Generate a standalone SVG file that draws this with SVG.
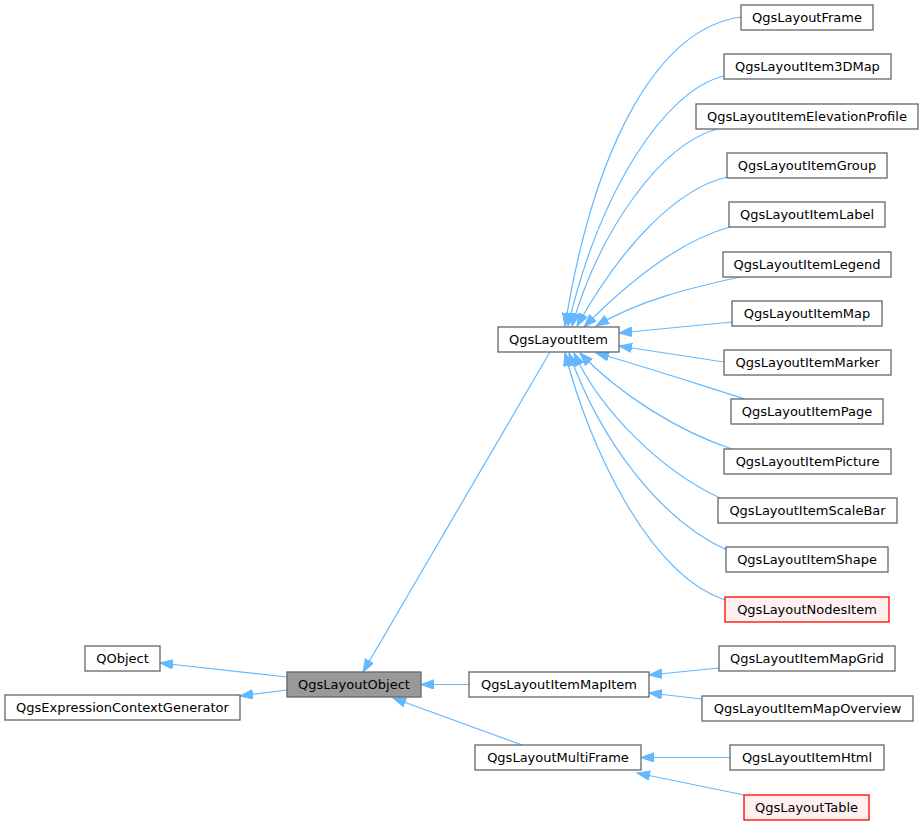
<svg xmlns="http://www.w3.org/2000/svg" width="924" height="825" viewBox="0 0 924 825">
<defs>
<marker id="arr" markerUnits="userSpaceOnUse" markerWidth="15" markerHeight="11" refX="13" refY="4.75" orient="auto">
<path d="M0,0 L13,4.75 L0,9.5 z" fill="#63b8ff" stroke="#63b8ff" stroke-width="1"/>
</marker>
</defs>
<style>
.n rect{fill:#ffffff;stroke:#666666;stroke-width:1.3}
.cur rect{fill:#999999;stroke:#666666;stroke-width:1.3}
.red rect{fill:#fff0f0;stroke:#ff0000;stroke-width:1.3}
text{font-family:"DejaVu Sans",sans-serif;font-size:13px;fill:#000000;text-anchor:middle}
.e path{fill:none;stroke:#63b8ff;stroke-width:1.2;marker-end:url(#arr)}
</style>
<rect width="924" height="825" fill="#ffffff"/>
<g class="e" id="edges">
<path d="M741,17 C660,28 595,140 565,326"/>
<path d="M724,76 C665,90 600,190 568,326"/>
<path d="M717,129 C660,145 600,230 572,326"/>
<path d="M727,177 C680,188 625,240 577,326"/>
<path d="M730,227 C690,238 640,270 584,327"/>
<path d="M740,277 C690,288 640,300 596,326"/>
<path d="M732,322 L619,333"/>
<path d="M724,362 L619,346"/>
<path d="M745,399 C700,385 640,365 596,353"/>
<path d="M732,449 C680,432 620,395 580,353"/>
<path d="M720,498 C660,470 600,410 574,353"/>
<path d="M727,550 C660,520 600,440 569,353"/>
<path d="M725,600 C650,575 590,450 565,353"/>
<path d="M550,352 L363,672"/>
<path d="M287,677 L160,663"/>
<path d="M287,690 L240,696"/>
<path d="M469,684.5 L421,684.5"/>
<path d="M522,745 L393,698"/>
<path d="M719,668 L649,675"/>
<path d="M702,699 L649,693"/>
<path d="M730,757.5 L641,757.5"/>
<path d="M744,795 L637,773"/>
</g>
<g class="n" id="QgsLayoutFrame"><rect x="741" y="5" width="132" height="25"/><text x="807" y="22">QgsLayoutFrame</text></g>
<g class="n" id="QgsLayoutItem3DMap"><rect x="724" y="54" width="167" height="25"/><text x="807.5" y="71">QgsLayoutItem3DMap</text></g>
<g class="n" id="QgsLayoutItemElevationProfile"><rect x="696" y="104" width="222" height="25"/><text x="807" y="121">QgsLayoutItemElevationProfile</text></g>
<g class="n" id="QgsLayoutItemGroup"><rect x="727" y="153" width="160" height="25"/><text x="807" y="170">QgsLayoutItemGroup</text></g>
<g class="n" id="QgsLayoutItemLabel"><rect x="729" y="202" width="156" height="25"/><text x="807" y="219">QgsLayoutItemLabel</text></g>
<g class="n" id="QgsLayoutItemLegend"><rect x="723" y="252" width="168" height="25"/><text x="807" y="269">QgsLayoutItemLegend</text></g>
<g class="n" id="QgsLayoutItemMap"><rect x="732" y="301" width="150" height="25"/><text x="807" y="318">QgsLayoutItemMap</text></g>
<g class="n" id="QgsLayoutItemMarker"><rect x="724" y="350" width="167" height="25"/><text x="807.5" y="367">QgsLayoutItemMarker</text></g>
<g class="n" id="QgsLayoutItemPage"><rect x="731" y="399" width="152" height="25"/><text x="807" y="416">QgsLayoutItemPage</text></g>
<g class="n" id="QgsLayoutItemPicture"><rect x="724" y="449" width="167" height="25"/><text x="807.5" y="466">QgsLayoutItemPicture</text></g>
<g class="n" id="QgsLayoutItemScaleBar"><rect x="718" y="498" width="179" height="25"/><text x="807.5" y="515">QgsLayoutItemScaleBar</text></g>
<g class="n" id="QgsLayoutItemShape"><rect x="726" y="547" width="162" height="25"/><text x="807" y="564">QgsLayoutItemShape</text></g>
<g class="red" id="QgsLayoutNodesItem"><rect x="725" y="597" width="164" height="25"/><text x="807" y="614">QgsLayoutNodesItem</text></g>
<g class="n" id="QgsLayoutItemMapGrid"><rect x="719" y="646" width="176" height="25"/><text x="807" y="663">QgsLayoutItemMapGrid</text></g>
<g class="n" id="QgsLayoutItemMapOverview"><rect x="702" y="696" width="211" height="25"/><text x="807.5" y="713">QgsLayoutItemMapOverview</text></g>
<g class="n" id="QgsLayoutItemHtml"><rect x="730" y="745" width="154" height="25"/><text x="807" y="762">QgsLayoutItemHtml</text></g>
<g class="red" id="QgsLayoutTable"><rect x="744" y="795" width="125" height="25"/><text x="806.5" y="812">QgsLayoutTable</text></g>
<g class="n" id="QgsLayoutItemMapItem"><rect x="469" y="672" width="180" height="25"/><text x="559" y="689">QgsLayoutItemMapItem</text></g>
<g class="n" id="QgsLayoutMultiFrame"><rect x="475" y="745" width="166" height="25"/><text x="558" y="762">QgsLayoutMultiFrame</text></g>
<g class="n" id="QgsLayoutItem"><rect x="498" y="327" width="121" height="25"/><text x="558.5" y="344">QgsLayoutItem</text></g>
<g class="n" id="QObject"><rect x="85" y="646" width="75" height="25"/><text x="122.5" y="663">QObject</text></g>
<g class="n" id="QgsExpressionContextGenerator"><rect x="5" y="695" width="235" height="25"/><text x="122.5" y="712">QgsExpressionContextGenerator</text></g>
<g class="cur" id="QgsLayoutObject"><rect x="287" y="672" width="134" height="25"/><text x="354" y="689">QgsLayoutObject</text></g>
</svg>
